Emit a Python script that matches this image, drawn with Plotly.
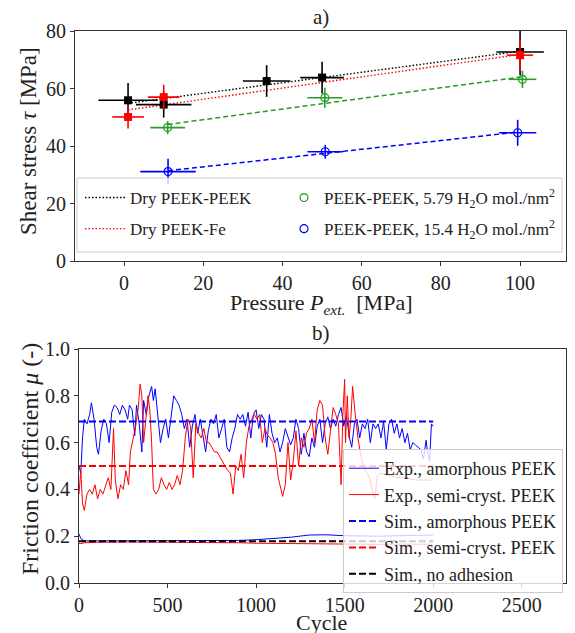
import numpy as np
import plotly.graph_objects as go

# ---------------- Panel a) data ----------------
dry_pp_p = [1.0, 10.0, 36.0, 50.0, 100.0]
dry_pp_tau = [55.9, 54.4, 62.6, 63.8, 72.7]
dry_pp_perr = [7.5, 7.0, 6.0, 5.5, 6.0]
dry_pp_terr = [6.0, 4.5, 5.5, 5.5, 8.0]

dry_fe_p = [1.0, 10.0, 100.0]
dry_fe_tau = [50.1, 57.0, 71.6]
dry_fe_perr = [4.0, 4.0, 3.3]
dry_fe_terr = [4.0, 4.3, 5.5]

w579_p = [11.0, 50.7, 100.6]
w579_tau = [46.4, 56.8, 63.2]
w579_perr = [4.4, 4.4, 3.5]
w579_terr = [2.3, 3.5, 3.0]

w154_p = [11.1, 50.8, 99.4]
w154_tau = [31.1, 38.0, 44.6]
w154_perr = [7.0, 4.5, 4.7]
w154_terr = [4.5, 2.4, 4.5]

# ---------------- Panel b) data ----------------
amor_cycle = [0, 10, 20, 30, 45, 60, 70, 85, 100, 110, 125, 140, 155, 170, 185, 200, 215, 230, 245, 260,
              275, 285, 300, 315, 325, 340, 355, 365, 380, 395, 410, 420, 430, 445, 460, 475, 490, 505, 520, 535,
              550, 565, 580, 595, 610, 625, 640, 655, 670, 685, 700, 715, 730, 745, 760, 775, 790, 805, 820, 835,
              850, 865, 880, 895, 910, 925, 940, 955, 970, 985, 1000, 1015, 1030, 1045, 1060, 1075, 1090, 1105, 1120, 1135,
              1150, 1165, 1180, 1195, 1210, 1225, 1240, 1255, 1270, 1285, 1300, 1315, 1330, 1345, 1360, 1375, 1390, 1405, 1420, 1435,
              1450, 1465, 1480, 1495, 1510, 1525, 1540, 1555, 1570, 1585, 1600, 1615, 1630, 1645, 1660, 1675, 1690, 1705, 1720, 1735,
              1750, 1765, 1780, 1795, 1810, 1825, 1840, 1855, 1870, 1885, 1900, 1915, 1930, 1945, 1960, 1970, 1980, 1990, 2000]
amor_mu = [0.50, 0.47, 0.62, 0.70, 0.68, 0.72, 0.77, 0.70, 0.58, 0.55, 0.65, 0.70, 0.68, 0.60, 0.73, 0.76, 0.75, 0.72, 0.76, 0.74,
           0.70, 0.76, 0.74, 0.63, 0.76, 0.68, 0.56, 0.78, 0.72, 0.80, 0.84, 0.78, 0.83, 0.72, 0.60, 0.66, 0.70, 0.62, 0.70, 0.80,
           0.78, 0.76, 0.72, 0.66, 0.70, 0.58, 0.67, 0.72, 0.64, 0.70, 0.63, 0.56, 0.65, 0.70, 0.68, 0.72, 0.62, 0.66, 0.70, 0.58,
           0.56, 0.62, 0.66, 0.72, 0.70, 0.72, 0.67, 0.73, 0.62, 0.72, 0.74, 0.66, 0.72, 0.70, 0.58, 0.72, 0.64, 0.60, 0.62, 0.56,
           0.60, 0.66, 0.62, 0.59, 0.62, 0.70, 0.66, 0.55, 0.64, 0.56, 0.54, 0.62, 0.58, 0.67, 0.70, 0.60, 0.68, 0.71, 0.66, 0.70,
           0.67, 0.72, 0.75, 0.67, 0.72, 0.63, 0.58, 0.68, 0.70, 0.62, 0.68, 0.66, 0.70, 0.60, 0.68, 0.66, 0.68, 0.62, 0.69, 0.57,
           0.68, 0.70, 0.64, 0.68, 0.62, 0.66, 0.60, 0.64, 0.57, 0.60, 0.59, 0.58, 0.57, 0.53, 0.61, 0.55, 0.52, 0.68, 0.67]

semi_cycle = [0, 10, 20, 30, 45, 60, 75, 90, 105, 120, 135, 150, 165, 180, 195, 205, 220, 235, 250, 265,
              280, 290, 305, 320, 335, 345, 355, 365, 375, 390, 400, 410, 420, 435, 450, 465, 480, 495, 510, 525,
              540, 555, 570, 585, 600, 615, 630, 645, 660, 675, 690, 705, 720, 735, 750, 765, 780, 795, 810, 825,
              840, 855, 870, 885, 900, 915, 930, 945, 960, 975, 990, 1005, 1020, 1035, 1050, 1065, 1080, 1095, 1110, 1125,
              1140, 1150, 1165, 1180, 1195, 1210, 1225, 1240, 1255, 1270, 1285, 1300, 1315, 1330, 1345, 1360, 1375, 1390, 1405, 1420,
              1435, 1450, 1465, 1480, 1490, 1500, 1505, 1515, 1525, 1535, 1545, 1560, 1575, 1590, 1605, 1620, 1640, 1655, 1670, 1685,
              1700, 1750, 1800, 1850, 1900, 1950, 2000]
semi_mu = [0.38, 0.48, 0.34, 0.31, 0.38, 0.40, 0.38, 0.42, 0.36, 0.40, 0.38, 0.42, 0.45, 0.40, 0.66, 0.44, 0.36, 0.42, 0.40, 0.48,
           0.42, 0.56, 0.62, 0.67, 0.75, 0.85, 0.80, 0.60, 0.68, 0.80, 0.74, 0.60, 0.40, 0.38, 0.40, 0.45, 0.42, 0.40, 0.43, 0.40,
           0.42, 0.46, 0.42, 0.48, 0.62, 0.70, 0.67, 0.45, 0.68, 0.64, 0.62, 0.66, 0.60, 0.60, 0.58, 0.56, 0.56, 0.54, 0.52, 0.50,
           0.48, 0.47, 0.38, 0.50, 0.48, 0.55, 0.45, 0.60, 0.67, 0.70, 0.72, 0.70, 0.72, 0.60, 0.66, 0.63, 0.62, 0.60, 0.55, 0.45,
           0.40, 0.37, 0.42, 0.60, 0.44, 0.52, 0.65, 0.50, 0.62, 0.58, 0.64, 0.66, 0.70, 0.60, 0.74, 0.78, 0.76, 0.62, 0.55, 0.66,
           0.75, 0.72, 0.68, 0.42, 0.72, 0.87, 0.60, 0.80, 0.62, 0.70, 0.84, 0.72, 0.62, 0.55, 0.50, 0.48, 0.45, 0.40, 0.36, 0.46,
           0.47, 0.46, 0.45, 0.45, 0.44, 0.44, 0.44]

sim_amor_low_cycle = [0, 10, 30, 100, 300, 500, 700, 900, 1000, 1100, 1200, 1300, 1400, 1500, 1600, 1700, 1800, 1900, 2000]
sim_amor_low_mu = [0.21, 0.19, 0.18, 0.18, 0.18, 0.18, 0.18, 0.182, 0.185, 0.19, 0.196, 0.205, 0.206, 0.202, 0.20, 0.20, 0.202, 0.204, 0.205]
sim_semi_low_cycle = [0, 10, 30, 100, 300, 500, 700, 900, 1000, 1100, 1200, 1300, 1400, 1500, 1600, 1700, 1800, 1900, 2000]
sim_semi_low_mu = [0.17, 0.168, 0.172, 0.174, 0.175, 0.175, 0.174, 0.172, 0.170, 0.169, 0.168, 0.167, 0.166, 0.165, 0.165, 0.165, 0.166, 0.166, 0.166]

sim_cycles = [0, 2000]
sim_amor_level = [0.69, 0.69]
sim_semi_level = [0.50, 0.50]
sim_noadh_level = [0.178, 0.178]

FONT = "Liberation Serif"
GREEN = "#2a9a2a"
fig = go.Figure()

def fit_line(x, y):
    c = np.polyfit(x, y, 1)
    xs = np.array([min(x), max(x)])
    return xs, np.polyval(c, xs)

# ---- panel a: fit lines ----
fx, fy = fit_line(dry_pp_p, dry_pp_tau)
fig.add_trace(go.Scatter(x=fx, y=fy, mode="lines", name="Dry PEEK-PEEK",
                         line=dict(color="black", width=1.4, dash="1.5px,2px"),
                         legend="legend", legendgroup="g1"))
fx, fy = fit_line(dry_fe_p, dry_fe_tau)
fig.add_trace(go.Scatter(x=fx, y=fy, mode="lines", name="Dry PEEK-Fe",
                         line=dict(color="red", width=1.4, dash="1.5px,2px"),
                         legend="legend", legendgroup="g2"))
fx, fy = fit_line(w579_p, w579_tau)
fig.add_trace(go.Scatter(x=fx, y=fy, mode="lines", showlegend=False,
                         line=dict(color=GREEN, width=1.5, dash="5px,3px")))
fx, fy = fit_line(w154_p, w154_tau)
fig.add_trace(go.Scatter(x=fx, y=fy, mode="lines", showlegend=False,
                         line=dict(color="blue", width=1.5, dash="5px,3px")))

# ---- panel a: data points ----
fig.add_trace(go.Scatter(x=w579_p, y=w579_tau, mode="markers", name="PEEK-PEEK, 5.79 H<sub>2</sub>O mol./nm<sup>2</sup>",
                         marker=dict(symbol="circle-open", size=8, color=GREEN, line=dict(width=1.2)),
                         error_x=dict(type="data", array=w579_perr, color=GREEN, thickness=1.6, width=0),
                         error_y=dict(type="data", array=w579_terr, color=GREEN, thickness=1.6, width=0),
                         legend="legend3", legendgroup="g3"))
fig.add_trace(go.Scatter(x=w154_p, y=w154_tau, mode="markers", name="PEEK-PEEK, 15.4 H<sub>2</sub>O mol./nm<sup>2</sup>",
                         marker=dict(symbol="circle-open", size=8, color="blue", line=dict(width=1.2)),
                         error_x=dict(type="data", array=w154_perr, color="blue", thickness=1.6, width=0),
                         error_y=dict(type="data", array=w154_terr, color="blue", thickness=1.6, width=0),
                         legend="legend3", legendgroup="g4"))
fig.add_trace(go.Scatter(x=dry_pp_p, y=dry_pp_tau, mode="markers", showlegend=False,
                         marker=dict(symbol="square", size=8, color="black"),
                         error_x=dict(type="data", array=dry_pp_perr, color="black", thickness=1.6, width=0),
                         error_y=dict(type="data", array=dry_pp_terr, color="black", thickness=1.6, width=0)))
fig.add_trace(go.Scatter(x=dry_fe_p, y=dry_fe_tau, mode="markers", showlegend=False,
                         marker=dict(symbol="square", size=8, color="red"),
                         error_x=dict(type="data", array=dry_fe_perr, color="red", thickness=1.6, width=0),
                         error_y=dict(type="data", array=dry_fe_terr, color="red", thickness=1.6, width=0)))

# ---- panel b ----
fig.add_trace(go.Scatter(x=sim_amor_low_cycle, y=sim_amor_low_mu, mode="lines", showlegend=False,
                         line=dict(color="blue", width=1), xaxis="x2", yaxis="y2"))
fig.add_trace(go.Scatter(x=sim_semi_low_cycle, y=sim_semi_low_mu, mode="lines", showlegend=False,
                         line=dict(color="red", width=1), xaxis="x2", yaxis="y2"))
fig.add_trace(go.Scatter(x=amor_cycle, y=amor_mu, mode="lines", name="Exp., amorphous PEEK",
                         line=dict(color="blue", width=1), xaxis="x2", yaxis="y2", legend="legend2", legendgroup="a"))
fig.add_trace(go.Scatter(x=semi_cycle, y=semi_mu, mode="lines", name="Exp., semi-cryst. PEEK",
                         line=dict(color="red", width=1), xaxis="x2", yaxis="y2", legend="legend2", legendgroup="b"))
fig.add_trace(go.Scatter(x=sim_cycles, y=sim_amor_level, mode="lines", name="Sim., amorphous PEEK",
                         line=dict(color="blue", width=2, dash="7px,3px"), xaxis="x2", yaxis="y2", legend="legend2", legendgroup="c"))
fig.add_trace(go.Scatter(x=sim_cycles, y=sim_semi_level, mode="lines", name="Sim., semi-cryst. PEEK",
                         line=dict(color="red", width=2, dash="7px,3px"), xaxis="x2", yaxis="y2", legend="legend2", legendgroup="d"))
fig.add_trace(go.Scatter(x=sim_cycles, y=sim_noadh_level, mode="lines", name="Sim., no adhesion",
                         line=dict(color="black", width=2, dash="7px,3px"), xaxis="x2", yaxis="y2", legend="legend2", legendgroup="e"))

W, H = 575, 633
def px(x):
    return x / W
def py(y):
    return 1 - y / H

axis_common = dict(showline=True, mirror=True, linecolor="#333", linewidth=1, ticks="outside", ticklen=4,
                   tickcolor="#333", showgrid=False, zeroline=False, automargin=False,
                   tickfont=dict(family=FONT, size=20, color="#222"))

def ann(text, x, y, size=22, angle=0):
    return dict(text=text, x=px(x), y=py(y), xref="paper", yref="paper", xanchor="center", yanchor="middle",
                showarrow=False, textangle=angle, font=dict(size=size, family=FONT, color="#222"))

leg_plain = dict(bgcolor="rgba(0,0,0,0)", borderwidth=0, orientation="v", traceorder="grouped",
                 xanchor="left", yanchor="top", font=dict(family=FONT, size=17, color="#222"))

fig.update_layout(
    width=W, height=H, margin=dict(l=0, r=0, t=0, b=0, autoexpand=False),
    plot_bgcolor="white", paper_bgcolor="white",
    font=dict(family=FONT, color="#222"),
    xaxis=dict(domain=[px(75), px(566)], range=[-12.4, 111.6], tickvals=[0, 20, 40, 60, 80, 100], anchor="y", **axis_common),
    yaxis=dict(domain=[py(261), py(31)], range=[0, 80], tickvals=[0, 20, 40, 60, 80], anchor="x", **axis_common),
    xaxis2=dict(domain=[px(79), px(566)], range=[0, 2750], tickvals=[0, 500, 1000, 1500, 2000, 2500], anchor="y2", **axis_common),
    yaxis2=dict(domain=[py(583), py(349)], range=[0, 1.0], tickvals=[0, 0.2, 0.4, 0.6, 0.8, 1.0], tickformat=".1f",
                anchor="x2", **axis_common),
    legend=dict(x=px(80), y=py(180), itemwidth=40, tracegroupgap=6, **leg_plain),
    legend3=dict(x=px(284), y=py(180), itemwidth=30, tracegroupgap=6, **leg_plain),
    legend2=dict(x=px(343), y=py(449), xanchor="left", yanchor="top", orientation="v", traceorder="grouped",
                 tracegroupgap=0, bgcolor="rgba(255,255,255,0.8)", bordercolor="#ccc", borderwidth=1,
                 font=dict(family=FONT, size=18, color="#222")),
    shapes=[dict(type="rect", xref="paper", yref="paper", x0=px(77), x1=px(562), y0=py(252), y1=py(178),
                 line=dict(color="#ccc", width=1), fillcolor="rgba(255,255,255,0.8)", layer="above")],
    annotations=[
        ann("a)", 321, 17, 21),
        ann("b)", 321, 333, 21),
        ann("Pressure <i>P</i><sub><i>ext.</i></sub>  [MPa]", 321, 304, 22),
        ann("Cycle", 321, 622, 22),
        ann("Shear stress <i>τ</i> [MPa]", 29, 141, 23, -90),
        ann("Friction coefficient <i>μ</i> (-)", 30, 459, 24, -90),
    ],
)

fig.write_html("out.html", config={"displayModeBar": False},
               post_script="document.body.style.margin='0';document.body.style.overflow='hidden';")
